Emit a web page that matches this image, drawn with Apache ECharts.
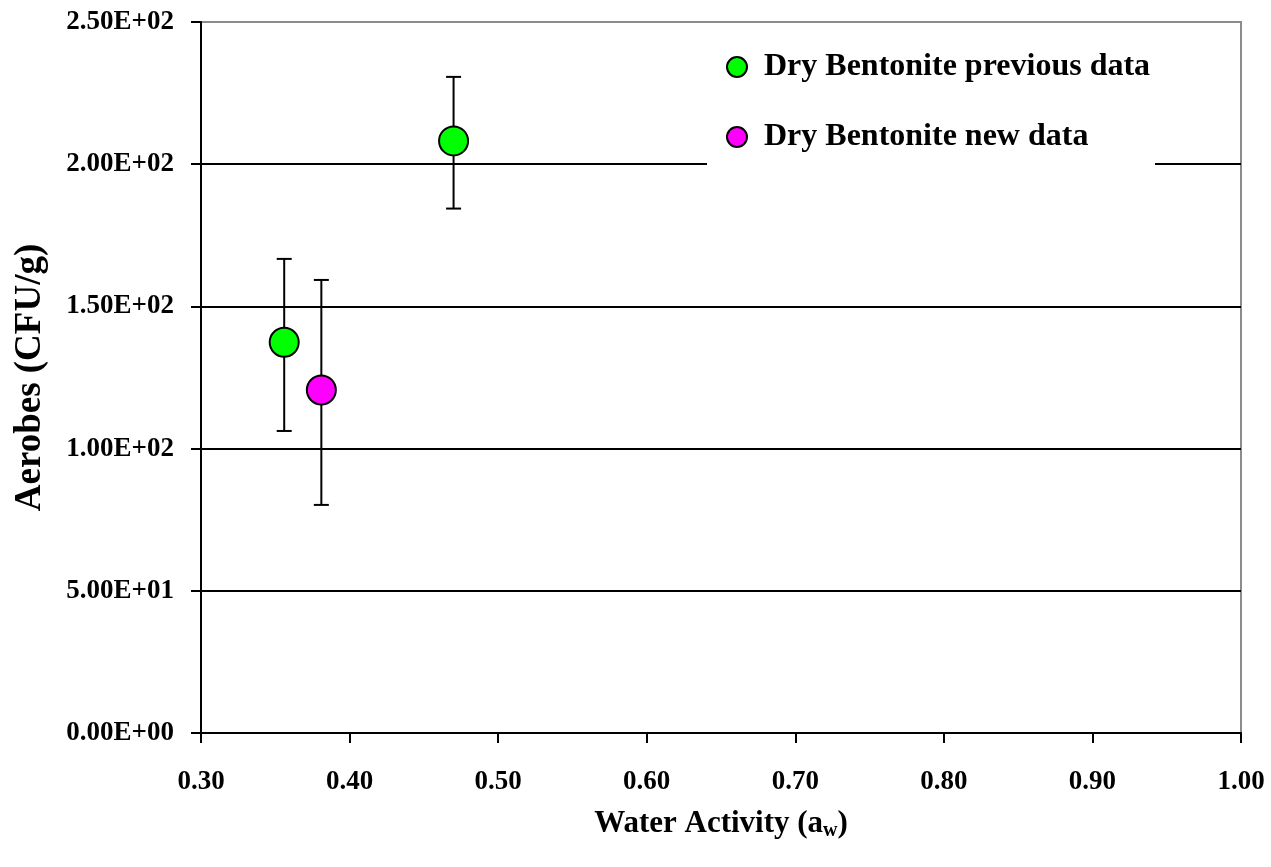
<!DOCTYPE html>
<html>
<head>
<meta charset="utf-8">
<script src="https://cdn.jsdelivr.net/npm/echarts@6/dist/echarts.min.js"></script>
<style>
html,body{margin:0;padding:0;background:#fff;}
#chart{width:1271px;height:867px;}
</style>
</head>
<body>
<div id="chart"></div>
<script>
// Data
const seriesNames = ['Dry Bentonite previous data', 'Dry Bentonite new data'];
const prevX = [0.356, 0.470];
const prevY = [137.4, 208.2];
const prevLow = [106.2, 184.4];
const prevHigh = [166.7, 230.7];
const newX = [0.381];
const newY = [120.6];
const newLow = [80.2];
const newHigh = [159.3];
const yTickLabels = ['0.00E+00', '5.00E+01', '1.00E+02', '1.50E+02', '2.00E+02', '2.50E+02'];
const xTickLabels = ['0.30', '0.40', '0.50', '0.60', '0.70', '0.80', '0.90', '1.00'];

const FONT = '"Liberation Serif", "Times New Roman", serif';

const prevData = prevX.map((x, i) => [x, prevY[i]]);
const newData = newX.map((x, i) => [x, newY[i]]);
const errData = prevX.map((x, i) => [x, prevLow[i], prevHigh[i]])
  .concat(newX.map((x, i) => [x, newLow[i], newHigh[i]]));

function renderErr(params, api) {
  const x = api.value(0);
  const lo = api.coord([x, api.value(1)]);
  const hi = api.coord([x, api.value(2)]);
  const cap = 7.5;
  const st = { stroke: '#000', lineWidth: 2 };
  return {
    type: 'group',
    children: [
      { type: 'line', shape: { x1: lo[0], y1: lo[1], x2: hi[0], y2: hi[1] }, style: st },
      { type: 'line', shape: { x1: lo[0] - cap, y1: lo[1], x2: lo[0] + cap, y2: lo[1] }, style: st },
      { type: 'line', shape: { x1: hi[0] - cap, y1: hi[1], x2: hi[0] + cap, y2: hi[1] }, style: st }
    ]
  };
}

const chart = echarts.init(document.getElementById('chart'));
chart.setOption({
  animation: false,
  backgroundColor: '#fff',
  grid: {
    left: 201, right: 30, top: 22, bottom: 134,
    containLabel: false, outerBoundsMode: 'none',
    show: true, borderColor: '#8c8c8c', borderWidth: 2, backgroundColor: 'transparent'
  },
  xAxis: {
    type: 'value', min: 0.3, max: 1.0, interval: 0.1,
    axisLine: { show: true, onZero: false, lineStyle: { color: '#000', width: 2 } },
    axisTick: { show: true, inside: false, length: 10, lineStyle: { color: '#000', width: 2 } },
    axisLabel: {
      margin: 36, color: '#000', fontFamily: FONT, fontWeight: 'bold', fontSize: 27,
      formatter: v => xTickLabels[Math.round((v - 0.3) / 0.1)]
    },
    splitLine: { show: false },
    name: '{t|Water Activity (a}{s|w}{t|)}',
    nameLocation: 'middle', nameGap: 74,
    nameTextStyle: {
      rich: {
        t: { fontFamily: FONT, fontWeight: 'bold', fontSize: 31, color: '#000' },
        s: { fontFamily: FONT, fontWeight: 'bold', fontSize: 20, color: '#000', verticalAlign: 'bottom', padding: [14, 0, 0, 0] }
      }
    }
  },
  yAxis: {
    type: 'value', min: 0, max: 250, interval: 50,
    axisLine: { show: true, onZero: false, lineStyle: { color: '#000', width: 2 } },
    axisTick: { show: true, inside: false, length: 10, lineStyle: { color: '#000', width: 2 } },
    axisLabel: {
      margin: 27, color: '#000', fontFamily: FONT, fontWeight: 'bold', fontSize: 27,
      formatter: v => yTickLabels[Math.round(v / 50)]
    },
    splitLine: { show: true, showMinLine: false, showMaxLine: false, lineStyle: { color: '#000', width: 2 } },
    name: 'Aerobes (CFU/g)',
    nameLocation: 'middle', nameGap: 152, nameRotate: 90,
    nameTextStyle: { fontFamily: FONT, fontWeight: 'bold', fontSize: 37, color: '#000' }
  },
  graphic: [{
    type: 'rect', left: 707, top: 36, z: 1, silent: true,
    shape: { width: 448, height: 134 },
    style: { fill: '#fff' }
  }],
  legend: {
    data: seriesNames,
    orient: 'vertical', left: 721, top: 46, z: 5,
    itemWidth: 20, itemHeight: 20, itemGap: 38, icon: 'circle',
    selectedMode: false,
    textStyle: { fontFamily: FONT, fontWeight: 'bold', fontSize: 32, color: '#000', padding: [0, 0, 0, 12] }
  },
  series: [
    {
      type: 'custom', name: 'err', renderItem: renderErr, data: errData, z: 2,
      encode: { x: 0, y: [1, 2] }, silent: true
    },
    {
      type: 'scatter', name: seriesNames[0], data: prevData, symbol: 'circle', symbolSize: 29, z: 3,
      itemStyle: { color: '#00ff00', borderColor: '#000', borderWidth: 2, opacity: 1 }
    },
    {
      type: 'scatter', name: seriesNames[1], data: newData, symbol: 'circle', symbolSize: 29, z: 3,
      itemStyle: { color: '#ff00ff', borderColor: '#000', borderWidth: 2, opacity: 1 }
    }
  ]
});
</script>
</body>
</html>
